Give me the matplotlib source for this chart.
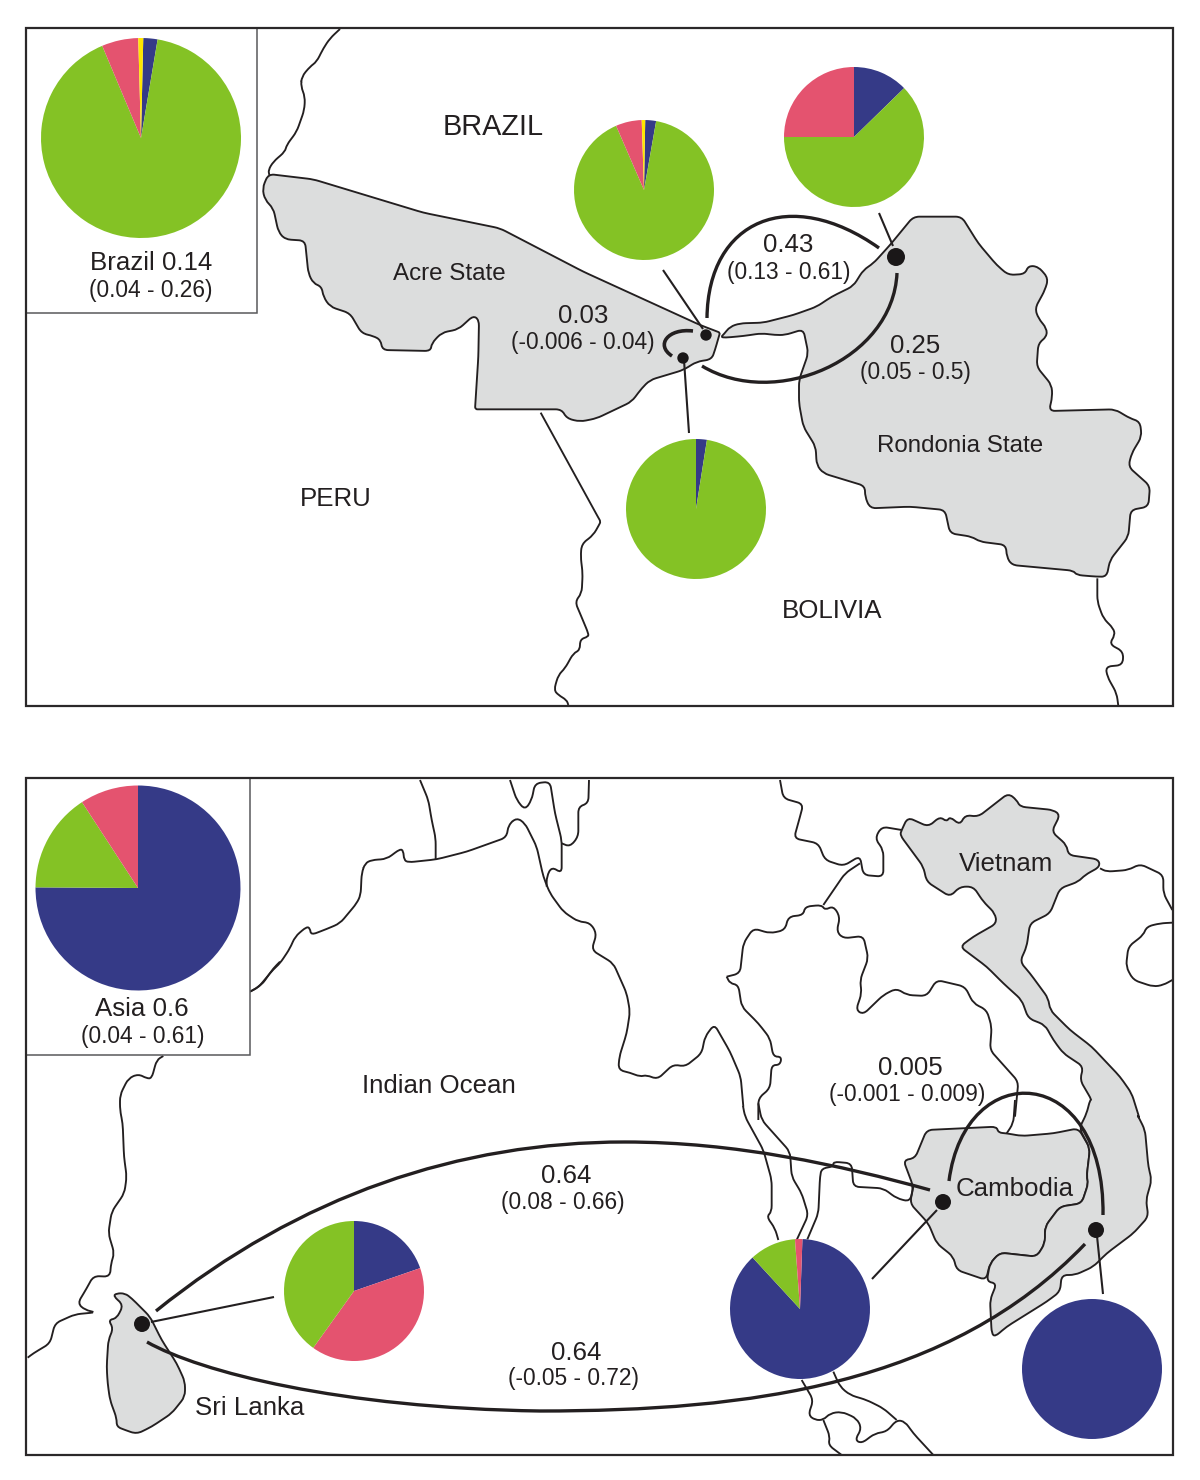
import numpy as np
import matplotlib
matplotlib.use('Agg')
import matplotlib.pyplot as plt
from matplotlib.path import Path
from matplotlib.patches import PathPatch, Rectangle, Circle

plt.rcParams['font.family'] = ['Liberation Sans', 'DejaVu Sans']

W, H = 1200, 1480
INK = '#231f20'
GREY = '#dcdddd'
GREEN = '#84c225'
BLUE = '#353a87'
RED = '#e4536f'
YELLOW = '#ffe600'

# pie shares, clockwise from the start angle
pie_brazil = [2.3, 91.0, 5.9, 0.8]
pie_acre_a = [2.5, 90.7, 6.0, 0.8]
pie_rondonia = [12.7, 62.3, 25.0]
pie_acre_b = [2.5, 97.5]
pie_asia = [75.1, 15.7, 9.2]
pie_srilanka = [19.7, 40.2, 40.1]
pie_cambodia = [87.6, 10.7, 1.7]
pie_vietnam = [100.0]

# outlines: (x0, y0) is the crop they were read in, at 3x
acre = [(55,72),(190,88),(520,188),(750,235),(1000,365),(1350,525),(1400,544),(1410,548),(1407,558),(1395,600),(1385,628),(1340,635),(1300,660),(1200,690),(1175,715),(1145,755),(1040,805),(990,815),(950,805),(935,778),(690,778),(675,778),(676,762),(685,620),(687,510),(670,497),(625,538),(575,548),(545,580),(542,603),(397,600),(392,570),(370,558),(335,550),(300,490),(240,470),(220,440),(215,410),(190,400),(175,370),(165,272),(105,268),(85,245),(70,175),(45,150),(37,115)]
rondonia = [(213,411),(222,402),(240,380),(270,370),(340,368),(430,345),(500,320),(545,290),(610,258),(640,210),(670,190),(720,135),(790,50),(935,50),(985,130),(1040,195),(1075,225),(1125,222),(1135,197),(1165,200),(1195,235),(1185,270),(1155,325),(1165,355),(1190,385),(1190,410),(1165,430),(1160,500),(1205,555),(1207,590),(1197,633),(1395,628),(1440,655),(1470,665),(1475,710),(1445,760),(1435,800),(1500,858),(1495,920),(1442,930),(1435,1010),(1380,1080),(1370,1130),(1340,1130),(1280,1125),(1270,1112),(1085,1095),(1070,1070),(1068,1035),(990,1025),(965,1010),(900,1000),(885,930),(780,920),(660,925),(645,890),(645,858),(520,820),(500,795),(497,740),(460,680),(447,610),(447,540),(475,460),(460,388),(405,405),(375,405),(335,400),(280,408),(225,413)]
river_north = [(255,12),(225,40),(205,70),(185,110),(165,125),(140,155),(138,185),(150,215),(148,255),(125,320),(95,360),(90,380),(55,410),(40,435),(43,450)]
river_peru = [(32,38),(205,353),(212,365),(207,375),(190,405),(155,432),(152,470),(158,520),(155,580),(135,605),(150,640),(175,700),(175,710),(150,718),(150,750),(130,760),(105,805),(85,825),(72,870),(85,885),(110,900),(115,915)]
river_bolivia = [(52,25),(52,95),(70,145),(100,175),(105,195),(88,222),(130,245),(128,285),(77,290),(82,320),(110,370),(115,408)]

srilanka = [(265,738),(275,730),(300,730),(320,745),(375,800),(410,870),(455,940),(480,995),(480,1040),(440,1090),(380,1130),(335,1152),(300,1140),(275,1130),(275,1105),(255,1050),(248,1000),(245,950),(250,870),(265,835),(250,810),(275,805),(295,765)]
india_west = [(415,18),(395,30),(380,85),(365,85),(340,72),(310,85),(285,135),(285,180),(293,220),(297,320),(305,380),(298,430),(260,485),(250,550),(268,610),(258,640),(255,680),(205,678),(185,715),(158,760),(180,780),(213,787),(150,793),(90,820),(75,880),(25,910),(8,923)]
coast_start = [(690,665),(725,645),(760,595),(780,575)]
coast_bay = [(0,635),(25,622),(70,568),(90,550),(120,505),(135,470),(170,440),(180,445),(183,465),(230,447),(270,430),(320,370),(332,345),(335,280),(345,250),(365,240),(410,237),(450,207),(460,212),(462,240),(475,247),(560,238),(650,215),(770,172),(775,135),(800,113),(825,130),(860,200),(880,290),(900,340),(940,395),(985,425),(1020,428),(1040,460),(1025,510),(1090,550),(1130,640),(1140,695),(1130,760),(1108,830),(1105,870),(1140,878),(1170,890),(1190,885),(1222,898),(1270,853),(1305,860),(1355,820),(1365,770),(1393,733),(1440,815),(1472,890),(1480,980)]
coast_south = [(39,258),(45,290),(100,390),(125,480),(125,575),(110,590),(135,625),(145,660)]
border_a = [(557,238),(557,175),(545,120),(535,60),(510,0)]
border_b = [(780,0),(800,60),(825,90),(845,60),(855,10),(900,5),(915,100),(935,180),(935,280),(905,260),(890,290),(890,320)]
border_c = [(935,190),(960,200),(985,170),(985,80),(1015,70),(1017,0)]
china_a = [(180,0),(190,55),(250,72),(240,110),(222,175),(295,190),(315,240),(370,258),(420,228),(430,285),(490,290),(490,210),(465,175),(485,140),(545,150)]
china_b = [(420,250),(375,280),(310,375)]
laos = [(20,590),(60,580),(70,490),(100,445),(150,460),(195,450),(205,410),(250,405),(255,380),(305,375),(315,390),(340,378),(360,410),(350,455),(370,475),(430,468),(445,535),(420,600),(425,640),(408,690),(430,703),(490,645),(530,625),(560,645),(620,648),(650,600),(735,620),(760,670),(800,690),(815,740),(810,810),(895,905),(885,1010)]
thai_west = [(20,590),(30,610),(55,615),(65,680),(115,730),(150,775),(160,830),(185,830),(180,855),(155,855),(150,925),(115,955),(115,1020)]
thai_c = [(115,10),(125,60),(210,155),(215,230),(245,280),(265,345),(230,420)]
thai_e = [(262,418),(295,340),(300,230),(305,205),(340,200),(340,185),(395,190),(400,260),(490,265),(530,295),(570,305),(580,260)]
laos_end = [(885,0),(880,70),(860,100)]
cambodia = [(550,180),(585,175),(620,90),(830,80),(835,98),(860,100),(905,108),(1000,100),(1075,85),(1110,145),(1100,230),(1105,250),(1085,310),(1020,320),(975,380),(975,430),(950,470),(840,458),(810,490),(798,540),(710,510),(700,470),(650,430),(625,370),(570,310),(580,260)]
vietnam_a = [(545,150),(563,112),(625,140),(660,110),(680,125),(690,110),(720,135),(735,105),(775,110),(865,40),(890,60),(900,80),(1000,90),(1020,105),(995,155),(1040,195),(1045,225),(1135,238),(1140,260),(1095,285),(1075,305),(1020,325),(990,400),(930,430),(920,500),(900,545),(930,580),(985,655),(990,690),(1050,750),(1115,800),(1200,890),(1235,940),(1260,1020)]
vietnam_b = [(1250,40),(1275,90),(1285,200),(1295,240),(1278,300),(1285,350),(1240,400),(1160,460),(1120,500),(1065,525),(1025,525),(1020,575),(980,605),(860,680),(825,710),(815,700),(810,600),(830,550),(800,545),(810,490),(840,458),(950,470),(975,430),(975,380),(1020,320),(1085,310),(1105,250),(1100,230),(1110,145),(1078,85),(1100,40),(1110,0)]
vietnam_c = [(1115,960),(1080,900),(1090,860),(1030,820),(1000,780),(975,735),(925,715),(905,660),(850,610),(800,560),(720,500),(760,470),(830,430),(825,400),(790,365),(760,320),(720,320),(690,350),(620,305),(610,260),(540,165)]
china_east = [(1140,265),(1160,275),(1225,270),(1260,252),(1330,285),(1330,340),(1357,390)]
hainan = [(1357,428),(1320,430),(1280,440),(1270,465),(1225,500),(1218,560),(1240,600),(1300,620),(1330,615),(1357,600)]
malay_a = [(245,840),(280,900),(265,945),(285,960),(310,960),(330,940),(365,935),(410,955),(425,985),(405,1020),(425,1030),(465,1000),(500,995),(530,960),(555,965),(580,1000),(640,1065)]
malay_b = [(340,815),(360,860),(390,885),(440,900),(490,925),(530,960)]
malay_c = [(310,960),(330,1010),(325,1035),(365,1065)]


def px(pts, x0, y0):
    a = np.array(pts, dtype=float)
    return np.column_stack([x0 + a[:, 0] / 3, H - (y0 + a[:, 1] / 3)])


def fy(p):
    return (p[0], H - p[1])


# outline path with its corners rounded off, like the hand drawn map
def rounded(pts, closed=False, r=6):
    n = len(pts)
    verts, codes = [], []
    idx = range(n) if closed else range(1, n - 1)
    if not closed:
        verts.append(pts[0])
        codes.append(Path.MOVETO)
    for i in idx:
        p, a, b = pts[i], pts[i - 1], pts[(i + 1) % n]
        la, lb = np.linalg.norm(a - p), np.linalg.norm(b - p)
        s = p + (a - p) / la * min(r, la / 2)
        e = p + (b - p) / lb * min(r, lb / 2)
        first = len(verts) == 0
        verts += [s, p, e]
        codes += [Path.MOVETO if first else Path.LINETO, Path.CURVE3, Path.CURVE3]
    if closed:
        verts.append(verts[0])
        codes.append(Path.CLOSEPOLY)
    else:
        verts.append(pts[-1])
        codes.append(Path.LINETO)
    return Path(verts, codes)


def land(ax, pts):
    ax.add_patch(PathPatch(rounded(pts, closed=True), fc=GREY, ec=INK, lw=1.35, zorder=2))


def line(ax, pts):
    ax.add_patch(PathPatch(rounded(pts), fc='none', ec=INK, lw=1.35, capstyle='butt', zorder=3))


def arc(ax, pts, lw=2.4):
    codes = [Path.MOVETO] + [Path.CURVE4] * (len(pts) - 1)
    ax.add_patch(PathPatch(Path([fy(p) for p in pts], codes), fc='none', ec=INK, lw=lw, capstyle='butt', zorder=8))


def leader(ax, a, b):
    ax.plot([a[0], b[0]], [H - a[1], H - b[1]], color=INK, lw=1.5, solid_capstyle='butt', zorder=8)


def dot(ax, c, r):
    ax.add_patch(Circle(fy(c), r, fc='#1a1718', ec='none', zorder=9))


def pie(ax, vals, cols, c, r, start=0):
    ax.pie(vals, colors=cols, center=fy(c), radius=r, startangle=90 - start, counterclock=False,
           wedgeprops={'linewidth': 0, 'zorder': 6})


def label(ax, x, y, s, size):
    ax.text(x, H - y - 2, s, fontsize=size, color=INK, ha='center', va='center', zorder=10)


fig = plt.figure(figsize=(12, 14.8), dpi=100)
ax = fig.add_axes([0, 0, 1, 1])

# upper map
land(ax, px(rondonia, 650, 200))
land(ax, px(acre, 250, 150))
line(ax, px(river_north, 255, 25))
line(ax, px(river_peru, 530, 400))
line(ax, px(river_bolivia, 1080, 570))

# lower map
land(ax, px(srilanka, 25, 1050))
land(ax, px(cambodia, 720, 1100))
land(ax, np.vstack([px(vietnam_a, 720, 780), px(vietnam_b, 720, 1100), px(vietnam_c, 720, 780)]))
line(ax, px(india_west, 25, 1050))
line(ax, px(coast_start, 20, 770))
line(ax, px(coast_bay, 250, 780))
line(ax, px(coast_south, 730, 1020))
for pts in [border_a, border_b, border_c]:
    line(ax, px(pts, 250, 780))
for pts in [china_a, china_b, laos, thai_west, china_east, hainan]:
    line(ax, px(pts, 720, 780))
for pts in [thai_c, thai_e, laos_end, malay_a, malay_b, malay_c]:
    line(ax, px(pts, 720, 1100))

# insets sit on top of the map lines
ax.add_patch(Rectangle((26, H - 313), 231, 285, fc='white', ec='#58595b', lw=1.1, zorder=4))
ax.add_patch(Rectangle((26, H - 1055), 224, 277, fc='white', ec='#58595b', lw=1.1, zorder=4))

# frames
for top, bottom in [(28, 706), (778, 1455)]:
    ax.add_patch(Rectangle((26, H - bottom), 1147, bottom - top, fc='none', ec='#2b2829', lw=1.6, zorder=5))

# pies
pie(ax, pie_brazil, [BLUE, GREEN, RED, YELLOW], (141, 138), 100, start=1.3)
pie(ax, pie_acre_a, [BLUE, GREEN, RED, YELLOW], (644, 190), 70, start=1)
pie(ax, pie_rondonia, [BLUE, GREEN, RED], (854, 137), 70)
pie(ax, pie_acre_b, [BLUE, GREEN], (696, 509), 70, start=0)
pie(ax, pie_asia, [BLUE, GREEN, RED], (138, 888), 102.5)
pie(ax, pie_srilanka, [BLUE, RED, GREEN], (354, 1291), 70)
pie(ax, pie_cambodia, [BLUE, GREEN, RED], (800, 1309), 70, start=2)
pie(ax, pie_vietnam, [BLUE], (1092, 1369), 70)

# connecting arcs
arc(ax, [(707, 318), (708, 220), (790, 185), (879, 248)])
arc(ax, [(897, 273), (893, 360), (775, 410), (702, 366)])
arc(ax, [(693, 331), (668, 328), (655, 345), (672, 356)], lw=2.6)
arc(ax, [(949, 1181), (965, 1056), (1105, 1062), (1103, 1215)])
arc(ax, [(156, 1311), (300, 1195), (460, 1142), (625, 1142), (735, 1142), (840, 1165), (930, 1190)])
arc(ax, [(147, 1342), (200, 1372), (340, 1408), (540, 1411), (750, 1411), (950, 1385), (1085, 1244)])

# leaders and sampling points
leader(ax, (663, 270), (703, 329))
leader(ax, (684, 360), (689, 433))
leader(ax, (879, 213), (893, 246))
leader(ax, (151, 1322), (274, 1297))
leader(ax, (937, 1210), (872, 1279))
leader(ax, (1097, 1236), (1103, 1294))
dot(ax, (706, 335), 5.7)
dot(ax, (683, 358), 5.7)
dot(ax, (896, 257), 9)
dot(ax, (142, 1324), 8)
dot(ax, (943, 1202), 8)
dot(ax, (1096, 1230), 8)

# text
BIG = 18.6
SMALL = 16.4
STATE = 17.4
label(ax, 493, 125, 'BRAZIL', 20.8)
label(ax, 336, 497, 'PERU', BIG)
label(ax, 832, 609, 'BOLIVIA', BIG)
label(ax, 449, 272, 'Acre State', STATE)
label(ax, 960, 444, 'Rondonia State', STATE)
label(ax, 151, 261, 'Brazil 0.14', BIG)
label(ax, 151, 288, '(0.04 - 0.26)', SMALL)
label(ax, 583, 314, '0.03', BIG)
label(ax, 583, 341, '(-0.006 - 0.04)', SMALL)
label(ax, 788, 243, '0.43', BIG)
label(ax, 789, 270, '(0.13 - 0.61)', SMALL)
label(ax, 915, 344, '0.25', BIG)
label(ax, 915, 371, '(0.05 - 0.5)', SMALL)
label(ax, 142, 1007, 'Asia 0.6', BIG)
label(ax, 143, 1034, '(0.04 - 0.61)', SMALL)
label(ax, 1006, 862, 'Vietnam', BIG)
label(ax, 910, 1066, '0.005', BIG)
label(ax, 907, 1093, '(-0.001 - 0.009)', SMALL)
label(ax, 439, 1084, 'Indian Ocean', BIG)
label(ax, 566, 1174, '0.64', BIG)
label(ax, 563, 1201, '(0.08 - 0.66)', SMALL)
label(ax, 1015, 1187, 'Cambodia', BIG)
label(ax, 576, 1351, '0.64', BIG)
label(ax, 573, 1377, '(-0.05 - 0.72)', SMALL)
label(ax, 250, 1406, 'Sri Lanka', BIG)

# pie() resets the limits, so set them last
ax.set_xlim(0, W)
ax.set_ylim(0, H)
ax.set_aspect('equal')
ax.axis('off')
fig.savefig('out.png', dpi=100, facecolor='white')
